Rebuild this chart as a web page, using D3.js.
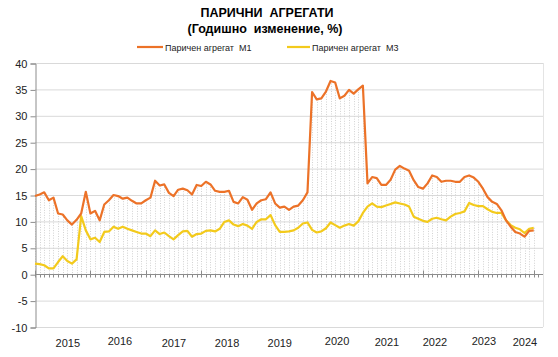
<!DOCTYPE html>
<html><head><meta charset="utf-8">
<script src="https://cdn.jsdelivr.net/npm/d3@7"></script>
<style>body{margin:0;background:#fff}svg{display:block;font-family:"Liberation Sans",Arial,sans-serif}svg text{white-space:pre}</style>
</head><body><svg id="c" width="558" height="357"></svg>
<script>
const title = "ПАРИЧНИ  АГРЕГАТИ";
const subtitle = "(Годишно  изменение, %)";
const seriesNames = ["Паричен агрегат  М1", "Паричен агрегат  М3"];
const startMonth = "2015-01";
const m1 = [14.8,15.1,15.5,14.0,14.5,11.5,11.3,10.2,9.4,10.3,11.5,15.6,11.5,12.0,10.2,13.2,14.0,15.0,14.8,14.3,
  14.5,13.9,13.4,13.4,14.0,14.5,17.7,16.8,17.0,15.4,14.8,16.0,16.2,15.9,15.1,16.9,16.7,17.5,17.0,15.8,
  15.6,15.6,15.8,13.7,13.4,14.6,14.1,12.2,13.4,14.0,14.2,15.5,13.4,12.6,12.8,12.2,12.8,13.0,14.0,15.5,
  34.5,33.1,33.3,34.6,36.6,36.3,33.3,33.8,34.9,34.2,35.0,35.7,17.2,18.4,18.2,16.9,16.9,17.9,19.8,20.5,
  20.0,19.6,17.8,16.5,16.2,17.2,18.7,18.4,17.5,17.7,17.7,17.5,17.5,18.4,18.7,18.3,17.5,16.2,14.6,13.7,
  13.3,12.1,10.2,9.0,8.0,7.7,7.1,8.2,8.3];
const m3 = [2.0,1.9,1.7,1.1,1.1,2.3,3.4,2.5,2.0,2.8,11.0,8.3,6.6,6.9,6.1,8.0,8.1,9.0,8.6,9.0,
  8.6,8.3,8.0,7.7,7.7,7.2,8.3,7.6,7.9,7.2,6.6,7.4,8.1,8.2,7.1,7.6,7.7,8.2,8.3,8.1,
  8.6,9.9,10.2,9.4,9.1,9.5,9.2,8.6,9.9,10.4,10.4,11.2,9.3,8.0,8.0,8.1,8.3,8.8,9.6,9.8,
  8.4,7.9,8.1,8.7,9.8,9.3,8.8,9.2,9.5,9.2,10.0,11.6,12.8,13.4,12.8,12.7,13.0,13.3,13.6,13.4,
  13.2,12.8,10.9,10.5,10.1,9.9,10.5,10.7,10.4,10.2,10.9,11.4,11.6,11.9,13.5,13.1,12.9,12.9,12.3,11.8,
  11.6,11.6,10.2,9.3,8.8,8.5,7.8,8.6,8.8];
const yearLabels = ["2015","2016","2017","2018","2019","2020","2021","2022","2023","2024"];
const yearLabelAt = [7.1,18.4,30.1,41.6,53.0,65.4,76.2,86.6,97.2,106.1];
const yearLabelDy = [0,-2,0,0,0,-2,-1,-1,-2,-1];
const yTicks = [-10,-5,0,5,10,15,20,25,30,35,40];

const colM1 = "#EC7228", colM3 = "#F3CA1C";
const svg = d3.select("#c");
const L = 35, R = 543, T = 63, B = 327;
const n = m1.length;
const x = d3.scaleLinear().domain([0, 110]).range([L, R]);
const y = d3.scaleLinear().domain([-10, 40]).range([B, T]);

// titles
svg.append("text").attr("x", 267).attr("y", 17).attr("text-anchor", "middle")
  .attr("font-weight", "bold").attr("font-size", 12.5).attr("fill", "#000").text(title);
svg.append("text").attr("x", 265).attr("y", 33).attr("text-anchor", "middle")
  .attr("font-weight", "bold").attr("font-size", 12.5).attr("fill", "#000").text(subtitle);

// legend
const lg = [{x0:137,x1:163,tx:165,c:colM1,t:seriesNames[0]},{x0:287,x1:310,tx:312,c:colM3,t:seriesNames[1]}];
lg.forEach(d=>{
  svg.append("line").attr("x1",d.x0).attr("x2",d.x1).attr("y1",47).attr("y2",47).attr("stroke",d.c).attr("stroke-width",2.2);
  svg.append("text").attr("x",d.tx).attr("y",50.5).attr("font-size",9).attr("fill","#222").text(d.t);
});

// horizontal grid
svg.append("g").selectAll("line").data(yTicks.filter(v=>v!==0)).join("line")
  .attr("x1", L).attr("x2", R).attr("y1", d=>y(d)+0.5).attr("y2", d=>y(d)+0.5)
  .attr("stroke", "#d9d9d9").attr("stroke-width", 1);
// right border
svg.append("line").attr("x1",R+0.5).attr("x2",R+0.5).attr("y1",T).attr("y2",B).attr("stroke","#e4e4e4");

// drop lines
const idx = d3.range(n);
svg.append("g").selectAll("line").data(idx).join("line")
  .attr("x1", i=>Math.round(x(i))+0.5).attr("x2", i=>Math.round(x(i))+0.5)
  .attr("y1", i=>y(Math.max(m1[i], m3[i]))).attr("y2", y(0))
  .attr("stroke", "#d2d2d2").attr("stroke-width", 1).attr("stroke-dasharray", "1,1.5");

// y axis
const ya = d3.axisLeft(y).tickValues(yTicks).tickSize(5).tickPadding(3).tickFormat(d=>String(d));
const yg = svg.append("g").attr("transform", `translate(${L+0.5},0.5)`).call(ya);
yg.select(".domain").attr("stroke", "#8c8c8c");
yg.selectAll(".tick line").attr("stroke", "#8c8c8c");
yg.selectAll("text").attr("font-size", 11).attr("fill", "#222").attr("font-family", '"Liberation Sans",Arial,sans-serif');

// x axis at zero
const xg = svg.append("g").attr("transform", `translate(0,${Math.round(y(0))+0.5})`);
xg.append("line").attr("x1", L).attr("x2", R).attr("stroke", "#8c8c8c");
xg.selectAll("line.t").data(d3.range(0, 110)).join("line").attr("class","t")
  .attr("x1", i=>Math.round(x(i))+0.5).attr("x2", i=>Math.round(x(i))+0.5)
  .attr("y1", i=> i%12===0 ? -4 : 0).attr("y2", 3).attr("stroke", "#8c8c8c");
svg.append("g").selectAll("text").data(yearLabels).join("text")
  .attr("x", (d,i)=>x(yearLabelAt[i])).attr("y", (d,i)=>347 + yearLabelDy[i])
  .attr("text-anchor","middle").attr("font-size", 11).attr("fill", "#222").text(d=>d);

// series lines
const line = d3.line().x((d,i)=>x(i)).y(d=>y(d));
svg.append("path").datum(m3).attr("d", line).attr("fill","none").attr("stroke", colM3).attr("stroke-width", 2.2).attr("stroke-linejoin","round");
svg.append("path").datum(m1).attr("d", line).attr("fill","none").attr("stroke", colM1).attr("stroke-width", 2.2).attr("stroke-linejoin","round");
</script></body></html>
